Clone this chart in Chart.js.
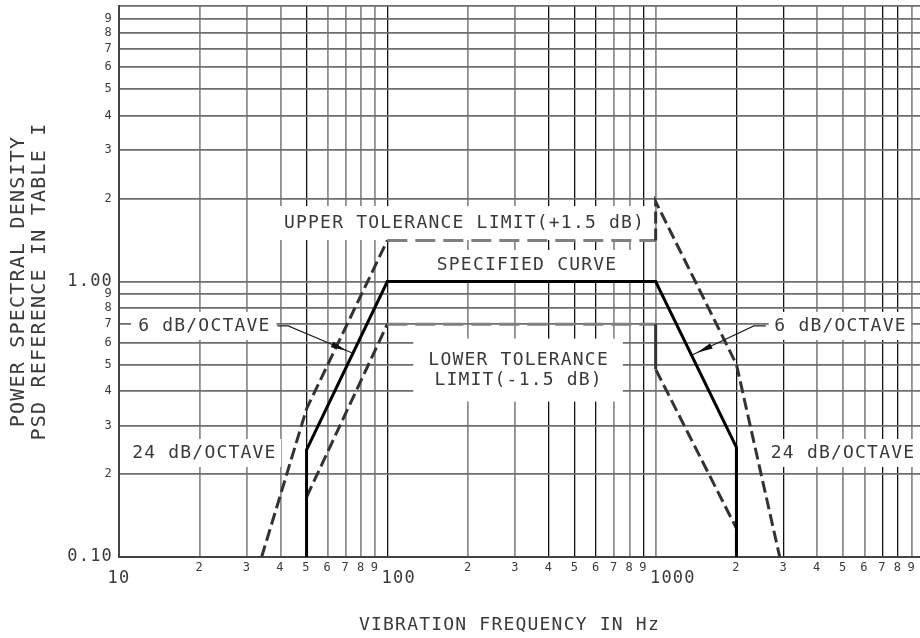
<!DOCTYPE html>
<html>
<head>
<meta charset="utf-8">
<script src="https://cdn.jsdelivr.net/npm/chart.js@4.4.1/dist/chart.umd.min.js"></script>
<style>
html, body { margin: 0; padding: 0; background: #fff; overflow: hidden; width: 920px; height: 638px; }
canvas { display: block; }
</style>
</head>
<body>
<canvas id="psd" width="924" height="638"></canvas>
<script>
'use strict';
// curves (Hz, PSD ref)
var specFreq = [50, 50, 100, 1000, 2000, 2000];
var specPsd = [0.1, 0.245, 1.0, 1.0, 0.25, 0.1];
var upperFreq = [34, 50, 100, 1000, 1000, 2000, 2900];
var upperPsd = [0.1, 0.345, 1.41, 1.41, 1.95, 0.5, 0.1];
var lowerFreq = [50, 100, 1000, 1000, 2000];
var lowerPsd = [0.165, 0.70, 0.70, 0.48, 0.127];

// tick values and labels
var xTickValues = [10, 20, 30, 40, 50, 60, 70, 80, 90,
  100, 200, 300, 400, 500, 600, 700, 800, 900,
  1000, 2000, 3000, 4000, 5000, 6000, 7000, 8000, 9000, 10000];
var xTickLabels = ['10', '2', '3', '4', '5', '6', '7', '8', '9',
  '  100', '2', '3', '4', '5', '6', '7', '8', '9',
  '   1000', '2', '3', '4', '5', '6', '7', '8', '9', ''];
var xDarkLines = [50, 100, 400, 500, 600, 900, 2000, 3000, 7000, 8000]; //the scan has some darker grid lines
var yTickValues = [0.1, 0.2, 0.3, 0.4, 0.5, 0.6, 0.7, 0.8, 0.9,
  1, 2, 3, 4, 5, 6, 7, 8, 9, 10];
var yTickLabels = ['0.10', '2', '3', '4', '5', '6', '7', '8', '9',
  '1.00', '2', '3', '4', '5', '6', '7', '8', '9', ''];

// text notes on the plot, centred at (freq, psd)
var notes = [
  {text: ['UPPER TOLERANCE LIMIT(+1.5 dB)'], x: 193, y: 1.63, padX: 6.5, padY: 7},
  {text: ['SPECIFIED CURVE'], x: 330, y: 1.148, padX: 14.5, padY: 5},
  {text: ['LOWER TOLERANCE', 'LIMIT(-1.5 dB)'], x: 307, y: 0.477, padX: 14.5, padY: 11.5},
  {text: ['6 dB/OCTAVE'], x: 20.7, y: 0.69, padX: 6.5, padY: 4},
  {text: ['24 dB/OCTAVE'], x: 20.7, y: 0.2386, padX: 5, padY: 4},
  {text: ['6 dB/OCTAVE'], x: 4860, y: 0.69, padX: 5, padY: 4},
  {text: ['24 dB/OCTAVE'], x: 4966, y: 0.2386, padX: 4.5, padY: 4}
];
var leaders = [
  [[38.9, 0.69], [42.7, 0.69], [74, 0.55]],
  [[2573, 0.69], [2322, 0.69], [1360, 0.54]]
];

var mono = '"DejaVu Sans Mono", monospace';
var textColor = '#3a3a3a';

function toPoints(xs, ys) {
  var pts = [];
  for (var i = 0; i < xs.length; i++) {
    pts.push({x: xs[i], y: ys[i]});
  }
  return pts;
}

function tolSegColor(c) {
  if (c.p0.parsed.y === c.p1.parsed.y) return '#7f7f7f';
  return '#333';
}
function tolSegDash(c) {
  if (c.p0.parsed.y === c.p1.parsed.y) return [20, 8];
  return [12, 5];
}

var notesPlugin = {
  id: 'notes',
  beforeDraw: function(chart) {
    chart.ctx.letterSpacing = '1.2px';
  },
  beforeDatasetsDraw: function(chart) {
    var ctx = chart.ctx, xs = chart.scales.x, ys = chart.scales.y;
    var gap = 20;
    ctx.save();
    ctx.letterSpacing = '1.2px';
    ctx.font = '18px ' + mono;
    ctx.textAlign = 'center';
    ctx.textBaseline = 'middle';
    notes.forEach(function(n) {
      var cx = xs.getPixelForValue(n.x), cy = ys.getPixelForValue(n.y);
      var w = 0;
      n.text.forEach(function(t) { w = Math.max(w, ctx.measureText(t).width); });
      var h = n.text.length * gap;
      ctx.fillStyle = '#fff';
      ctx.fillRect(cx - w / 2 - n.padX, cy - h / 2 - n.padY, w + 2 * n.padX, h + 2 * n.padY);
      ctx.fillStyle = textColor;
      n.text.forEach(function(t, i) {
        ctx.fillText(t, cx + 0.6, cy + (i - (n.text.length - 1) / 2) * gap);
      });
    });
    ctx.restore();
  },
  afterDatasetsDraw: function(chart) {
    var ctx = chart.ctx, xs = chart.scales.x, ys = chart.scales.y;
    ctx.save();
    ctx.strokeStyle = '#222';
    ctx.fillStyle = '#111';
    ctx.lineWidth = 1.2;
    leaders.forEach(function(l) {
      var p = l.map(function(q) { return [xs.getPixelForValue(q[0]), ys.getPixelForValue(q[1])]; });
      ctx.beginPath();
      ctx.moveTo(p[0][0], p[0][1]);
      for (var i = 1; i < p.length; i++) ctx.lineTo(p[i][0], p[i][1]);
      ctx.stroke();
      // arrow head
      var a = p[p.length - 1], b = p[p.length - 2];
      var ang = Math.atan2(a[1] - b[1], a[0] - b[0]);
      var tipX = a[0] - Math.cos(ang) * 6, tipY = a[1] - Math.sin(ang) * 6;
      ctx.beginPath();
      ctx.moveTo(tipX, tipY);
      ctx.lineTo(tipX - Math.cos(ang) * 16 - Math.sin(ang) * 3, tipY - Math.sin(ang) * 16 + Math.cos(ang) * 3);
      ctx.lineTo(tipX - Math.cos(ang) * 16 + Math.sin(ang) * 3, tipY - Math.sin(ang) * 16 - Math.cos(ang) * 3);
      ctx.closePath();
      ctx.fill();
    });
    ctx.restore();
  }
};

var minorFont = {family: mono, size: 12, lineHeight: 1.2};
var majorXFont = {family: mono, size: 17, lineHeight: 2.06};
var majorYFont = {family: mono, size: 17, lineHeight: 1.2};

var psdChart = new Chart(document.getElementById('psd').getContext('2d'), {
  type: 'line',
  data: {
    datasets: [{
      label: 'Specified curve',
      data: toPoints(specFreq, specPsd),
      borderColor: '#000',
      borderWidth: 3,
      pointRadius: 0,
      fill: false,
      tension: 0
    }, {
      label: 'Upper tolerance limit',
      data: toPoints(upperFreq, upperPsd),
      borderColor: '#333',
      borderWidth: 3,
      pointRadius: 0,
      fill: false,
      tension: 0,
      segment: {borderColor: tolSegColor, borderDash: tolSegDash}
    }, {
      label: 'Lower tolerance limit',
      data: toPoints(lowerFreq, lowerPsd),
      borderColor: '#333',
      borderWidth: 3,
      pointRadius: 0,
      fill: false,
      tension: 0,
      segment: {borderColor: tolSegColor, borderDash: tolSegDash}
    }]
  },
  options: {
    responsive: false,
    animation: false,
    events: [],
    layout: {padding: {top: 6, left: 0, right: 0, bottom: 0}},
    plugins: {legend: {display: false}, tooltip: {enabled: false}},
    scales: {
      x: {
        type: 'logarithmic',
        min: 10,
        max: 10000,
        afterBuildTicks: function(scale) {
          scale.ticks = xTickValues.map(function(v) { return {value: v}; });
        },
        afterFit: function(scale) {
          scale.height = 81;
          scale.paddingLeft = 0;
          scale.paddingRight = 0;
        },
        ticks: {
          autoSkip: false,
          maxRotation: 0,
          padding: 4,
          color: textColor,
          callback: function(value, index) { return xTickLabels[index]; },
          font: function(c) {
            if (c.index === undefined) return minorFont;
            return xTickLabels[c.index].trim().length > 1 ? majorXFont : minorFont;
          }
        },
        grid: {
          drawTicks: false,
          color: function(c) {
            return c.tick && xDarkLines.indexOf(c.tick.value) >= 0 ? '#111' : '#8e8e8e';
          },
          lineWidth: function(c) {
            return c.tick && xDarkLines.indexOf(c.tick.value) >= 0 ? 1.3 : 1.8;
          }
        },
        border: {display: true, color: '#444', width: 2},
        title: {
          display: true,
          text: 'VIBRATION FREQUENCY IN Hz  ',
          color: textColor,
          font: {family: mono, size: 18, lineHeight: 1.2},
          padding: {top: 0, bottom: 2}
        }
      },
      y: {
        type: 'logarithmic',
        min: 0.1,
        max: 10,
        afterBuildTicks: function(scale) {
          scale.ticks = yTickValues.map(function(v) { return {value: v}; });
        },
        afterFit: function(scale) {
          scale.width = 119;
          scale.paddingTop = 0;
          scale.paddingBottom = 0;
        },
        ticks: {
          autoSkip: false,
          padding: 6,
          color: textColor,
          callback: function(value, index) { return yTickLabels[index]; },
          font: function(c) {
            if (c.index === undefined) return minorFont;
            return yTickLabels[c.index].length > 1 ? majorYFont : minorFont;
          }
        },
        grid: {
          drawTicks: false,
          color: '#6e6e6e',
          lineWidth: 1.7
        },
        border: {display: true, color: '#444', width: 2},
        title: {
          display: true,
          text: ['POWER SPECTRAL DENSITY', 'PSD REFERENCE IN TABLE I'],
          color: textColor,
          font: {family: mono, size: 20, lineHeight: 1.05},
          padding: {top: 8.5, bottom: 0}
        }
      }
    }
  },
  plugins: [notesPlugin]
});
</script>
</body>
</html>
